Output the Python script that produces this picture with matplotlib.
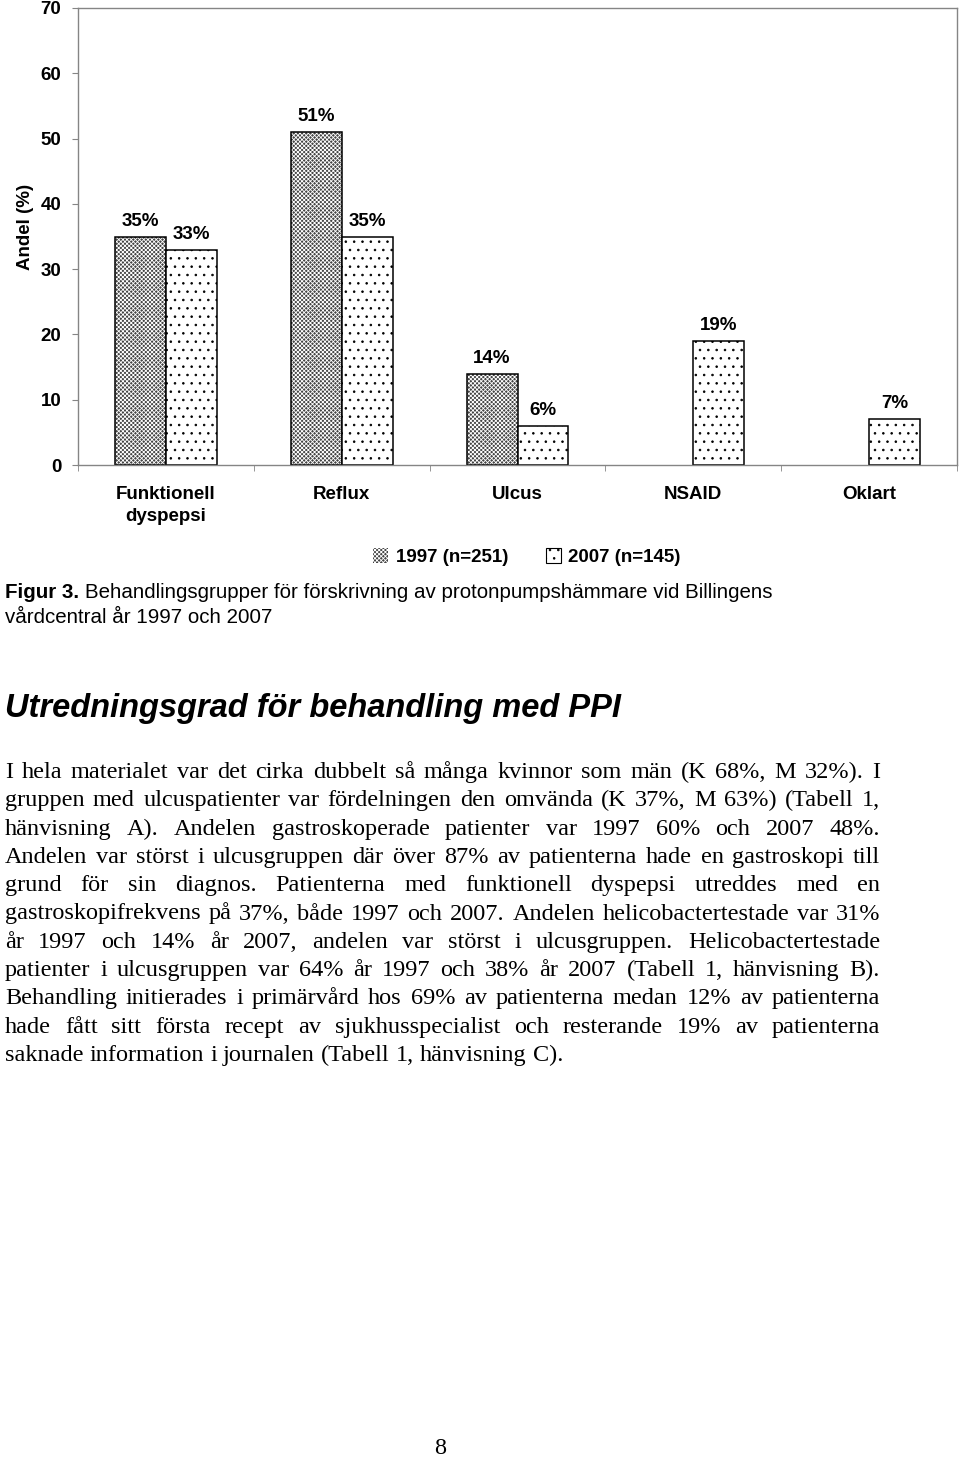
import matplotlib
matplotlib.use("Agg")
import matplotlib.pyplot as plt
from matplotlib.patches import Patch
import numpy as np

W, H = 960, 1464

# chart data
categories = ["Funktionell\ndyspepsi", "Reflux", "Ulcus", "NSAID", "Oklart"]
share_1997 = [35, 51, 14, 0, 0]
share_2007 = [33, 35, 6, 19, 7]
series_names = ["1997 (n=251)", "2007 (n=145)"]
y_ticks = [0, 10, 20, 30, 40, 50, 60, 70]

# page text
caption_bold = "Figur 3."
caption_rest = "Behandlingsgrupper för förskrivning av protonpumpshämmare vid Billingens"
caption_line2 = "vårdcentral år 1997 och 2007"
heading = "Utredningsgrad för behandling med PPI"
body_lines = [
    "I hela materialet var det cirka dubbelt så många kvinnor som män (K 68%, M 32%). I",
    "gruppen med ulcuspatienter var fördelningen den omvända (K 37%, M 63%) (Tabell 1,",
    "hänvisning A). Andelen gastroskoperade patienter var 1997 60% och 2007 48%.",
    "Andelen var störst i ulcusgruppen där över 87% av patienterna hade en gastroskopi till",
    "grund för sin diagnos. Patienterna med funktionell dyspepsi utreddes med en",
    "gastroskopifrekvens på 37%, både 1997 och 2007. Andelen helicobactertestade var 31%",
    "år 1997 och 14% år 2007, andelen var störst i ulcusgruppen. Helicobactertestade",
    "patienter i ulcusgruppen var 64% år 1997 och 38% år 2007 (Tabell 1, hänvisning B).",
    "Behandling initierades i primärvård hos 69% av patienterna medan 12% av patienterna",
    "hade fått sitt första recept av sjukhusspecialist och resterande 19% av patienterna",
    "saknade information i journalen (Tabell 1, hänvisning C).",
]
page_number = "8"

SANS = "Liberation Sans"
SERIF = "Liberation Serif"
GREY = "#858585"
DARK_FACE = "#444444"
DARK_HATCH = "x" * 8
LIGHT_HATCH = ".."
FS = 13.5
BODY_SIZE = 17.5

plt.rcParams["hatch.linewidth"] = 0.6

fig = plt.figure(figsize=(W / 100, H / 100), dpi=100)
ax = fig.add_axes([78 / W, 1 - 465 / H, (957 - 78) / W, (465 - 8) / H])

x = np.arange(len(categories))
bw = 0.29
# 1997: dark face with a white cross hatch, black outline drawn on top
ax.bar(x - bw / 2, share_1997, bw, facecolor=DARK_FACE, edgecolor="white",
       linewidth=0, hatch=DARK_HATCH)
b1 = ax.bar(x - bw / 2, share_1997, bw, fill=False, edgecolor="black", linewidth=1.1)
b2 = ax.bar(x + bw / 2, share_2007, bw, facecolor="white", edgecolor="black",
            linewidth=1.1, hatch=LIGHT_HATCH)
for bars, vals in ((b1, share_1997), (b2, share_2007)):
    for p, v in zip(bars, vals):
        if v == 0:
            p.set_visible(False)
    ax.bar_label(bars, labels=[f"{v}%" if v else "" for v in vals], padding=5,
                 fontsize=FS, fontweight="bold", family=SANS)

ax.set_xlim(-0.5, len(categories) - 0.5)
ax.set_ylim(0, 70)
ax.set_yticks(y_ticks)
ax.set_xticks(x)
ax.set_xticklabels(categories, fontsize=FS, fontweight="bold", family=SANS)
for lbl in ax.get_xticklabels():
    lbl.set_linespacing(1.38)
ax.set_xticks(np.arange(-0.5, len(categories), 1), minor=True)
ax.tick_params(axis="x", which="major", length=0, pad=15)
ax.tick_params(axis="x", which="minor", length=4, color=GREY, direction="out")
ax.tick_params(axis="y", length=4, color=GREY, pad=8, labelsize=FS)
for lbl in ax.get_yticklabels():
    lbl.set_fontweight("bold")
    lbl.set_family(SANS)
for s in ax.spines.values():
    s.set_color(GREY)
    s.set_linewidth(1.0)

ax.set_ylabel("Andel (%)", fontsize=FS, fontweight="bold", family=SANS)
ax.yaxis.set_label_coords(-0.05, 0.52)

handles = [Patch(facecolor=DARK_FACE, edgecolor="white", hatch=DARK_HATCH, linewidth=0),
           Patch(facecolor="white", edgecolor="black", hatch=LIGHT_HATCH, linewidth=0.8)]
fig.legend(handles, series_names, loc="center", bbox_to_anchor=(527 / W, 1 - 557 / H),
           ncol=2, frameon=False, prop=dict(family=SANS, weight="bold", size=FS),
           handlelength=0.8, handleheight=0.8, handletextpad=0.4, columnspacing=2.0)

renderer = fig.canvas.get_renderer()


def width_px(t):
    return t.get_window_extent(renderer).width


def space_px(family, size):
    a = fig.text(0, 0, "x x", family=family, size=size)
    b = fig.text(0, 0, "xx", family=family, size=size)
    s = width_px(a) - width_px(b)
    a.remove()
    b.remove()
    return s


# caption
cap_size = 14.8
t = fig.text(5 / W, 1 - 598 / H, caption_bold, family=SANS, weight="bold",
             size=cap_size, va="baseline")
fig.text((5 + width_px(t) + space_px(SANS, cap_size)) / W, 1 - 598 / H, caption_rest,
         family=SANS, size=cap_size, va="baseline")
fig.text(5 / W, 1 - 623 / H, caption_line2, family=SANS, size=cap_size, va="baseline")

# heading
fig.text(5 / W, 1 - 717 / H, heading, family=SANS, weight="bold", style="italic",
         size=23.5, va="baseline")

# justified body text
x0, x1 = 5, 880
space = space_px(SERIF, BODY_SIZE)

for i, line in enumerate(body_lines):
    y = 1 - (778 + i * 28.3) / H
    words = line.split(" ")
    arts = [fig.text(0, y, w, family=SERIF, size=BODY_SIZE, va="baseline") for w in words]
    widths = [width_px(a) for a in arts]
    last = i == len(body_lines) - 1
    gap = space if last else (x1 - x0 - sum(widths)) / (len(words) - 1)
    pos = x0
    for a, w in zip(arts, widths):
        a.set_x(pos / W)
        pos += w + gap

fig.text(440 / W, 1 - 1448 / H, page_number, family=SERIF, size=BODY_SIZE,
         ha="center", va="center")

fig.savefig("out.png", dpi=100)
